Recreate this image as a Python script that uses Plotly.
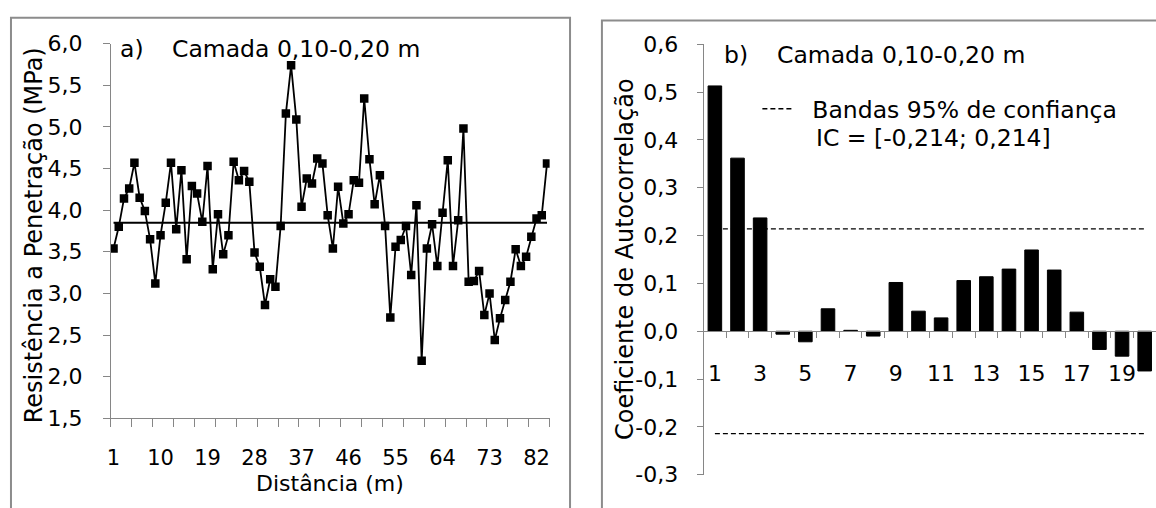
import plotly.graph_objects as go

# ---------------- data ----------------
DIST = list(range(1, 85))
RP = [3.54, 3.80, 4.14, 4.26, 4.57, 4.15, 3.99, 3.65, 3.12, 3.70,
      4.09, 4.57, 3.77, 4.48, 3.41, 4.29, 4.20, 3.86, 4.53, 3.29,
      3.95, 3.47, 3.70, 4.58, 4.36, 4.47, 4.34, 3.49, 3.32, 2.86,
      3.17, 3.08, 3.81, 5.16, 5.74, 5.09, 4.04, 4.38, 4.32, 4.62,
      4.56, 3.94, 3.54, 4.28, 3.84, 3.95, 4.36, 4.33, 5.34, 4.61,
      4.07, 4.42, 3.81, 2.71, 3.56, 3.64, 3.81, 3.22, 4.06, 2.19,
      3.54, 3.83, 3.33, 3.97, 4.60, 3.33, 3.88, 4.98, 3.14, 3.15,
      3.27, 2.74, 3.00, 2.44, 2.70, 2.92, 3.14, 3.53, 3.33, 3.44,
      3.68, 3.90, 3.94, 4.56]
RP_MEAN = 3.85
DIST_TICKS = [1, 10, 19, 28, 37, 46, 55, 64, 73, 82]
RP_TICKS = [1.5, 2.0, 2.5, 3.0, 3.5, 4.0, 4.5, 5.0, 5.5, 6.0]

LAGS = list(range(1, 21))
ACF = [0.513, 0.362, 0.237, -0.006, -0.022, 0.047, 0.002, -0.010, 0.102, 0.042,
       0.028, 0.106, 0.114, 0.130, 0.170, 0.128, 0.040, -0.038, -0.052, -0.083]
IC = 0.214
LAG_TICKS = [1, 3, 5, 7, 9, 11, 13, 15, 17, 19]
ACF_TICKS = [-0.3, -0.2, -0.1, 0.0, 0.1, 0.2, 0.3, 0.4, 0.5, 0.6]
ACF_TICK_TEXT = ["-0,3", "-0,2", "-0,1", "0,0", "0,1", "0,2", "0,3", "0,4", "0,5", "0,6"]

# ---------------- layout constants ----------------
W, H = 1156, 508
FONT = "DejaVu Sans"
TICK_SIZE = 22
XTICK_SIZE = 21
TITLE_SIZE = 24
XTITLE_SIZE = 22
NOTE_SIZE = 23.5
AXIS_GRAY = "#868686"
FRAME_GRAY = "#8c8c8c"

def px(x):
    return x / W

def py(y):
    return 1 - y / H

L_XDOM = [px(107.3), px(547.5)]
L_YDOM = [py(427.3), py(33.3)]
R_XDOM = [px(702), 1.0]
R_YDOM = [py(486.7), py(34)]
R_YRANGE = [ACF_TICKS[0], ACF_TICKS[-1]]
zero_pos = R_YDOM[0] + (R_YDOM[1] - R_YDOM[0]) * (0 - R_YRANGE[0]) / (R_YRANGE[1] - R_YRANGE[0])

fig = go.Figure()

# left: penetration resistance series
fig.add_trace(go.Scatter(
    x=DIST, y=[RP_MEAN] * len(DIST), mode="lines",
    line=dict(color="black", width=2), xaxis="x", yaxis="y", showlegend=False,
    hoverinfo="skip"))
fig.add_trace(go.Scatter(
    x=DIST, y=RP, mode="lines+markers",
    line=dict(color="black", width=1.8),
    marker=dict(symbol="square", size=8.5, color="black"),
    xaxis="x", yaxis="y", showlegend=False))

# right: autocorrelation
fig.add_trace(go.Bar(
    x=LAGS, y=ACF, xaxis="x2", yaxis="y2", showlegend=False,
    marker=dict(color="black", line=dict(color="black", width=1)), width=0.6))
fig.add_trace(go.Scatter(
    x=LAGS, y=[IC] * len(LAGS), mode="lines", xaxis="x2", yaxis="y2",
    line=dict(color="black", width=1.3, dash="5px,3px"),
    name="\u00a0\u00a0Bandas 95% de confiança", showlegend=True))
fig.add_trace(go.Scatter(
    x=LAGS, y=[-IC] * len(LAGS), mode="lines", xaxis="x2", yaxis="y2",
    line=dict(color="black", width=1.3, dash="5px,3px"), showlegend=False))

tickfont = dict(family=FONT, size=TICK_SIZE, color="black")
xtickfont = dict(family=FONT, size=XTICK_SIZE, color="black")

fig.update_layout(
    width=W, height=H,
    margin=dict(l=0, r=0, t=0, b=0),
    paper_bgcolor="white", plot_bgcolor="rgba(0,0,0,0)",
    separators=",.",
    font=dict(family=FONT, color="black"),
    xaxis=dict(
        domain=L_XDOM, range=[0.5, len(DIST) + 0.5], anchor="y",
        tickmode="array", tickvals=DIST_TICKS, ticktext=[str(t) for t in DIST_TICKS],
        ticks="", ticklen=0, showgrid=False, zeroline=False,
        showline=True, linecolor=AXIS_GRAY, linewidth=1,
        tickfont=xtickfont, ticklabelstandoff=21,
        minor=dict(tick0=0.5, dtick=4, ticks="outside", ticklen=8,
                   tickcolor=AXIS_GRAY, tickwidth=1, showgrid=False),
    ),
    yaxis=dict(
        domain=L_YDOM, range=[RP_TICKS[0], RP_TICKS[-1]], anchor="x",
        tickmode="array", tickvals=RP_TICKS, tickformat=".1f",
        ticks="outside", ticklen=7, tickcolor=AXIS_GRAY,
        showgrid=False, zeroline=False,
        showline=True, linecolor=AXIS_GRAY, linewidth=1,
        tickfont=tickfont, ticklabelstandoff=16,
    ),
    xaxis2=dict(
        domain=R_XDOM, range=[0.5, len(LAGS) + 0.5], anchor="free", position=zero_pos,
        tickmode="array", tickvals=LAG_TICKS, ticktext=[str(t) for t in LAG_TICKS],
        ticks="", ticklen=0, showgrid=False, zeroline=False,
        showline=True, linecolor=AXIS_GRAY, linewidth=1,
        tickfont=tickfont, ticklabelstandoff=22,
        minor=dict(tick0=0.5, dtick=1, ticks="outside", ticklen=6,
                   tickcolor=AXIS_GRAY, tickwidth=1, showgrid=False),
    ),
    yaxis2=dict(
        domain=R_YDOM, range=R_YRANGE, anchor="x2",
        tickmode="array", tickvals=ACF_TICKS, ticktext=ACF_TICK_TEXT,
        ticks="outside", ticklen=6, tickcolor=AXIS_GRAY,
        showgrid=False, zeroline=False,
        showline=True, linecolor=AXIS_GRAY, linewidth=1,
        tickfont=tickfont, ticklabelstandoff=14,
    ),
    bargap=0.4,
    legend=dict(x=px(756), y=py(102), xanchor="left", yanchor="middle",
                bgcolor="rgba(0,0,0,0)", borderwidth=0,
                font=dict(family=FONT, size=NOTE_SIZE, color="black"),
                itemclick=False, itemdoubleclick=False),
    shapes=[
        dict(type="rect", xref="paper", yref="paper",
             x0=px(7), x1=px(568), y0=-0.05, y1=py(6),
             line=dict(color=FRAME_GRAY, width=2), fillcolor="rgba(0,0,0,0)", layer="below"),
        dict(type="rect", xref="paper", yref="paper",
             x0=px(600), x1=1.05, y0=-0.05, y1=py(9),
             line=dict(color=FRAME_GRAY, width=2), fillcolor="rgba(0,0,0,0)", layer="below"),
    ],
)

ann = []
def note(text, x, y, size=NOTE_SIZE, xanchor="left", yanchor="middle", angle=0):
    ann.append(dict(text=text, x=px(x), y=py(y), xref="paper", yref="paper",
                    xanchor=xanchor, yanchor=yanchor, showarrow=False, textangle=angle,
                    borderpad=0,
                    font=dict(family=FONT, size=size, color="black")))

note("a)", 115, 39)
note("Camada 0,10-0,20 m", 168, 39)
note("b)", 721, 45)
note("Camada 0,10-0,20 m", 775, 45)
note("IC = [-0,214; 0,214]", 814, 132)
note("Distância (m)", (107.3 + 547.5) / 2, 510, size=XTITLE_SIZE, xanchor="center", yanchor="bottom")
note("Resistência a Penetração (MPa)", 31, 235, size=TITLE_SIZE, xanchor="center", angle=-90)
note("Coeficiente de Autocorrelação", 623, 260, size=TITLE_SIZE, xanchor="center", angle=-90)
fig.update_layout(annotations=ann)

fig.write_html("out.html")
